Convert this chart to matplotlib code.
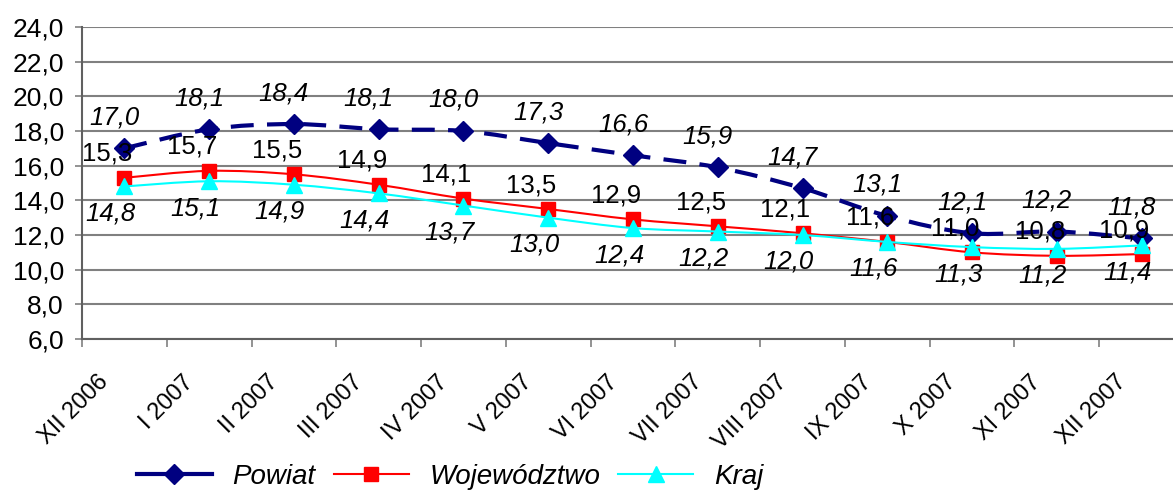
import matplotlib
matplotlib.use("Agg")
import matplotlib.pyplot as plt
from matplotlib.transforms import offset_copy
from matplotlib.ticker import FixedLocator, NullFormatter
from matplotlib.path import Path
from matplotlib.patches import PathPatch
from matplotlib.lines import Line2D

plt.rcParams['font.family'] = ['Liberation Sans', 'DejaVu Sans']

categories = ["XII 2006", "I 2007", "II 2007", "III 2007", "IV 2007", "V 2007", "VI 2007",
              "VII 2007", "VIII 2007", "IX 2007", "X 2007", "XI 2007", "XII 2007"]
powiat = [17.0, 18.1, 18.4, 18.1, 18.0, 17.3, 16.6, 15.9, 14.7, 13.1, 12.1, 12.2, 11.8]
wojewodztwo = [15.3, 15.7, 15.5, 14.9, 14.1, 13.5, 12.9, 12.5, 12.1, 11.6, 11.0, 10.8, 10.9]
kraj = [14.8, 15.1, 14.9, 14.4, 13.7, 13.0, 12.4, 12.2, 12.0, 11.6, 11.3, 11.2, 11.4]
yticks = [6, 8, 10, 12, 14, 16, 18, 20, 22, 24]

W, H = 1173, 493
fig = plt.figure(figsize=(W / 100, H / 100), dpi=100)
ax = fig.add_axes([82 / W, (H - 339) / H, 1102 / W, 312 / H])

x = list(range(len(categories)))
NAVY = "#000080"
RED = "#FF0000"
CYAN = "#00FFFF"


def smooth_path(xs, ys):
    """Smoothed (Catmull-Rom style) line through the data points, as Bezier path."""
    n = len(xs)
    verts = [(xs[0], ys[0])]
    codes = [Path.MOVETO]
    for i in range(n - 1):
        i0 = max(i - 1, 0)
        i3 = min(i + 2, n - 1)
        c1 = (xs[i] + (xs[i + 1] - xs[i0]) / 6, ys[i] + (ys[i + 1] - ys[i0]) / 6)
        c2 = (xs[i + 1] - (xs[i3] - xs[i]) / 6, ys[i + 1] - (ys[i3] - ys[i]) / 6)
        verts += [c1, c2, (xs[i + 1], ys[i + 1])]
        codes += [Path.CURVE4] * 3
    return Path(verts, codes)


series = [
    (powiat, NAVY, 3.0, (0, (5.5, 3.2)), 'D', 10, "Powiat", 5),
    (wojewodztwo, RED, 1.5, '-', 's', 10, "Województwo", 4),
    (kraj, CYAN, 1.5, '-', '^', 11, "Kraj", 6),
]
handles = []
for vals, col, lw, ls, mk, ms, lab, z in series:
    ax.add_patch(PathPatch(smooth_path(x, vals), fill=False, edgecolor=col, lw=lw,
                           linestyle=ls, capstyle='butt', zorder=z))
    ax.plot(x, vals, linestyle='none', marker=mk, ms=ms, mfc=col, mec=col, zorder=z + 0.5)
    handles.append(Line2D([], [], color=col, lw=lw, linestyle='-', marker=mk, ms=ms,
                          mfc=col, mec=col, label=lab))


def fmt(v):
    return f"{v:.1f}".replace(".", ",")


def px(v):
    return v * 72 / 100


LBL = 18.5
for i in x:
    t = offset_copy(ax.transData, fig=fig, x=px(-10), y=px(31), units='points')
    ax.text(i, powiat[i], fmt(powiat[i]), transform=t, ha='center', va='center',
            fontsize=LBL, style='italic', zorder=10)
    t = offset_copy(ax.transData, fig=fig, x=px(-17), y=px(24), units='points')
    ax.text(i, wojewodztwo[i], fmt(wojewodztwo[i]), transform=t, ha='center', va='center',
            fontsize=LBL, zorder=10)
    t = offset_copy(ax.transData, fig=fig, x=px(-14), y=px(-27), units='points')
    ax.text(i, kraj[i], fmt(kraj[i]), transform=t, ha='center', va='center',
            fontsize=LBL, style='italic', zorder=10)

ax.set_xlim(-0.5, len(categories) - 0.5)
ax.set_ylim(6, 24)
ax.set_yticks(yticks)
ax.set_yticklabels([fmt(v) for v in yticks], fontsize=19)
ax.yaxis.grid(True, color="#808080", lw=1.5)
ax.set_axisbelow(True)
ax.tick_params(axis='y', length=5, width=1.2, color="#808080", pad=8)

ax.set_xticks([])
ax.xaxis.set_minor_locator(FixedLocator([i - 0.5 for i in range(len(categories) + 1)]))
ax.xaxis.set_minor_formatter(NullFormatter())
ax.tick_params(axis='x', which='minor', length=6, width=1.2, color="#808080")

for s in ['top', 'right']:
    ax.spines[s].set_visible(False)
for s in ['left', 'bottom']:
    ax.spines[s].set_color("#606060")
    ax.spines[s].set_linewidth(1.5)

for i, lab in enumerate(categories):
    t = offset_copy(ax.get_xaxis_transform(), fig=fig, x=px(-19), y=px(-40), units='points')
    ax.text(i, 0, lab, transform=t, rotation=45, rotation_mode='anchor',
            ha='right', va='center', fontsize=17, clip_on=False)

fig.legend(handles=handles, loc='center', bbox_to_anchor=(450 / W, 1 - 477 / H), ncol=3,
           frameon=False, prop={'size': 20, 'style': 'italic'}, handlelength=2.7,
           columnspacing=0.65, handletextpad=0.75, borderpad=0)

fig.savefig("out.png", dpi=100)
